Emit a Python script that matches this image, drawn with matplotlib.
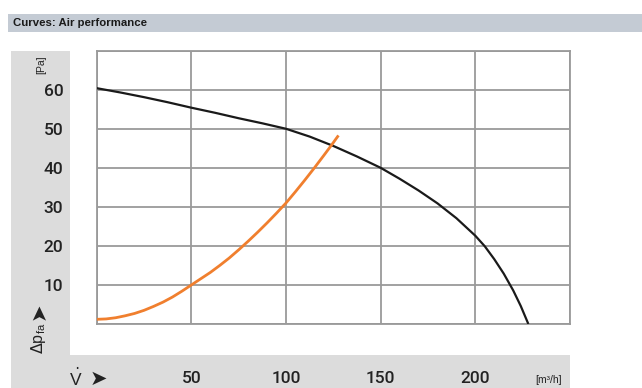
import matplotlib
matplotlib.use("Agg")
import matplotlib.pyplot as plt
from matplotlib.patches import Rectangle

# ---- data ----
fan_x = [0, 12.5, 25, 37.5, 50, 62.5, 75, 87.5, 100, 112.5, 125, 137.5, 150,
         160, 170, 180, 190, 200, 205, 210, 215, 220, 224, 228]
fan_y = [60.4, 59.3, 58.1, 56.8, 55.4, 54.1, 52.7, 51.4, 50, 48.0, 45.6, 42.9, 40,
         37.2, 34.2, 30.9, 27.1, 22.6, 19.9, 16.6, 12.9, 8.6, 4.6, 0]

sys_x = [0, 5, 10, 15, 20, 25, 30, 35, 40, 45, 50, 55, 60, 65, 70, 75, 80, 85,
         90, 95, 100, 105, 110, 115, 120, 124, 127.7]
sys_y = [1.2, 1.3, 1.6, 2.1, 2.7, 3.5, 4.5, 5.6, 6.9, 8.4, 10, 11.6, 13.2, 15,
         16.9, 19, 21.2, 23.5, 25.9, 28.4, 31, 33.9, 36.9, 40.0, 43.2, 45.8, 48.3]

x_ticks = [0, 50, 100, 150, 200, 250]
x_labels = ["", "50", "100", "150", "200", ""]
y_ticks = [0, 10, 20, 30, 40, 50, 60, 70]
y_labels = ["", "10", "20", "30", "40", "50", "60", ""]

title = "Curves: Air performance"

W, H = 642, 388
fig = plt.figure(figsize=(W / 100, H / 100), dpi=100)
fig.patch.set_facecolor("white")

def px(x0, y0, x1, y1):
    """pixel box (top-left origin) -> figure-fraction rect"""
    return (x0 / W, 1 - y1 / H, (x1 - x0) / W, (y1 - y0) / H)

def frect(x0, y0, x1, y1, color):
    l, b, w, h = px(x0, y0, x1, y1)
    fig.add_artist(Rectangle((l, b), w, h, transform=fig.transFigure,
                             facecolor=color, edgecolor="none", zorder=0))

# title bar and grey strips
frect(8, 14, 642, 32, "#c4cbd4")
frect(11, 51, 70, 388, "#dcdcdc")
frect(11, 355, 570, 388, "#dcdcdc")

fig.text(13 / W, 1 - 23.5 / H, title, fontsize=8.2, fontweight="bold",
         family=["Liberation Sans", "DejaVu Sans"], va="center", ha="left",
         color="#1a1a1a")

tick_family = ["Roboto", "Liberation Sans", "DejaVu Sans"]

ax = fig.add_axes(px(96.7, 50.7, 570, 324))
ax.set_xlim(0, 250)
ax.set_ylim(0, 70)
ax.set_xticks(x_ticks)
ax.set_xticklabels(x_labels)
ax.set_yticks(y_ticks)
ax.set_yticklabels(y_labels)
ax.grid(True, color="#9a9a9a", linewidth=1.3)
for s in ax.spines.values():
    s.set_color("#9a9a9a")
    s.set_linewidth(1.3)
ax.tick_params(axis="both", length=0, labelsize=12.5, colors="#222222")
ax.tick_params(axis="y", pad=24)
ax.tick_params(axis="x", pad=34)
for lab in ax.get_xticklabels() + ax.get_yticklabels():
    lab.set_family(tick_family)
    lab.set_fontweight("medium")

ax.plot(fan_x, fan_y, color="#1a1a1a", linewidth=1.6, solid_capstyle="butt",
        solid_joinstyle="round", zorder=3)
ax.plot(sys_x, sys_y, color="#f07f2e", linewidth=2.0, solid_capstyle="butt",
        solid_joinstyle="round", zorder=3)

# axis annotations
fig.text(41 / W, 1 - 65 / H, "[Pa]", rotation=90, fontsize=7.5,
         family=["Liberation Sans", "DejaVu Sans"], ha="center", va="center", color="#222222")
fig.text(39 / W, 1 - 311 / H, "\u27a4", rotation=90, fontsize=15, fontweight="bold",
         family=["DejaVu Sans"], ha="center", va="center", color="#222222")
fig.text(39 / W, 1 - 338 / H, r"$\Delta$p$_{\mathregular{fa}}$", rotation=90, fontsize=11.5,
         family=["Liberation Sans", "DejaVu Sans"], ha="center", va="center", color="#222222")
fig.text(76 / W, 1 - 378 / H, r"$\dot{\mathregular{V}}$", fontsize=12.5,
         family=["Liberation Sans", "DejaVu Sans"], ha="center", va="center", color="#222222")
fig.text(98 / W, 1 - 379 / H, "\u27a4", fontsize=15, fontweight="bold",
         family=["DejaVu Sans"], ha="center", va="center", color="#222222")
fig.text(549 / W, 1 - 380 / H, "[m\u00b3/h]", fontsize=7.5,
         family=["Liberation Sans", "DejaVu Sans"], ha="center", va="center", color="#222222")

fig.savefig("out.png", dpi=100)
